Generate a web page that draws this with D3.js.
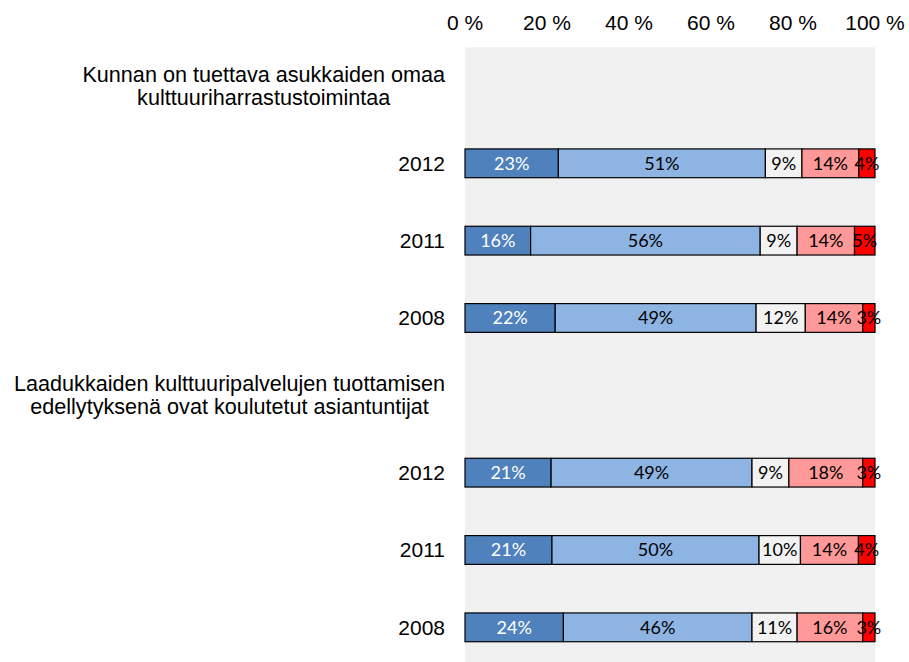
<!DOCTYPE html>
<html>
<head>
<meta charset="utf-8">
<script src="https://cdn.jsdelivr.net/npm/d3@7"></script>
<style>
  body { margin: 0; background: #fff; }
  svg text { font-family: "Liberation Sans", Arial, sans-serif; }
</style>
</head>
<body>
<div id="chart"></div>
<script>
// statements (two lines each) and the survey years shown under each
let statements = [
  ["Kunnan on tuettava asukkaiden omaa", "kulttuuriharrastustoimintaa"],
  ["Laadukkaiden kulttuuripalvelujen tuottamisen", "edellytyksenä ovat koulutetut asiantuntijat"]
];
let years = ["2012", "2011", "2008"];

// shares per answer class, rows in order: statement 1 (2012, 2011, 2008), statement 2 (2012, 2011, 2008)
let shareA = [23, 16, 22, 21, 21, 24];
let shareB = [51, 56, 49, 49, 50, 46];
let shareC = [9, 9, 12, 9, 10, 11];
let shareD = [14, 14, 14, 18, 14, 16];
let shareE = [4, 5, 3, 3, 4, 3];

let tickLabels = ["0 %", "20 %", "40 %", "60 %", "80 %", "100 %"];
let tickValues = [0, 0.2, 0.4, 0.6, 0.8, 1];

let colors = ["#4f81bd", "#8eb4e3", "#f2f2f2", "#ff9999", "#ff0000"];
let labelColors = ["#ffffff", "#000000", "#000000", "#000000", "#000000"];

let width = 909;
let height = 662;
let svg = d3.select("#chart").append("svg").attr("width", width).attr("height", height);

// row keys: a header row for each statement followed by its years
let rowKeys = [];
statements.forEach((s, i) => {
  rowKeys.push("h" + i);
  years.forEach(yr => rowKeys.push("r" + i + "_" + yr));
});

let x = d3.scaleLinear().domain([0, 1]).range([465, 875]);
let y = d3.scaleBand().domain(rowKeys).range([47.3, 666]).padding(0);
let barH = y.step() * 0.372;

// plot background
svg.append("rect")
  .attr("x", x(0)).attr("y", y.range()[0])
  .attr("width", x(1) - x(0)).attr("height", y.range()[1] - y.range()[0])
  .attr("fill", "#f0f0f0");

// top axis labels
svg.selectAll(".tick-label")
  .data(tickValues)
  .enter().append("text")
  .attr("class", "tick-label")
  .attr("x", d => x(d))
  .attr("y", 29.5)
  .attr("text-anchor", "middle")
  .style("font-size", "21px")
  .text((d, i) => tickLabels[i]);

// build rows
let rows = [];
statements.forEach((s, i) => {
  years.forEach((yr, j) => {
    let k = i * years.length + j;
    let vals = [shareA[k], shareB[k], shareC[k], shareD[k], shareE[k]];
    rows.push({key: "r" + i + "_" + yr, year: yr, vals: vals});
  });
});

// statement labels, lines centered within a block right-aligned at 445
statements.forEach((s, i) => {
  let cy = y("h" + i) + y.step() / 2;
  let g = svg.append("g");
  let texts = g.selectAll("text")
    .data(s)
    .enter().append("text")
    .attr("y", (d, j) => cy + (j - (s.length - 1) / 2) * 23)
    .attr("dy", "0.35em")
    .attr("text-anchor", "middle")
    .style("font-size", "21.6px")
    .text(d => d);
  let maxW = d3.max(texts.nodes(), n => n.getComputedTextLength());
  texts.attr("x", 445 - maxW / 2);
});

// year labels
svg.selectAll(".year-label")
  .data(rows)
  .enter().append("text")
  .attr("class", "year-label")
  .attr("x", 445)
  .attr("y", d => y(d.key) + y.step() / 2)
  .attr("dy", "0.35em")
  .attr("text-anchor", "end")
  .style("font-size", "21px")
  .text(d => d.year);

// stacked segments
rows.forEach(r => {
  let total = d3.sum(r.vals);
  let cum = 0;
  let segs = r.vals.map((v, i) => {
    let s = {i: i, v: v, x0: cum / total, x1: (cum + v) / total};
    cum += v;
    return s;
  });
  let g = svg.append("g");
  let by = y(r.key) + (y.step() - barH) / 2;
  g.selectAll("rect")
    .data(segs)
    .enter().append("rect")
    .attr("x", d => x(d.x0))
    .attr("y", by)
    .attr("width", d => x(d.x1) - x(d.x0))
    .attr("height", barH)
    .attr("fill", d => colors[d.i])
    .attr("stroke", "#000")
    .attr("stroke-width", 1.2);
  g.selectAll("text")
    .data(segs)
    .enter().append("text")
    .attr("x", d => (x(d.x0) + x(d.x1)) / 2)
    .attr("y", by + barH / 2)
    .attr("dy", "0.36em")
    .attr("text-anchor", "middle")
    .style("font-family", "Lato, 'Open Sans', sans-serif")
    .style("font-size", "18px")
    .attr("fill", d => labelColors[d.i])
    .text(d => d.v + "%");
});
</script>
</body>
</html>
